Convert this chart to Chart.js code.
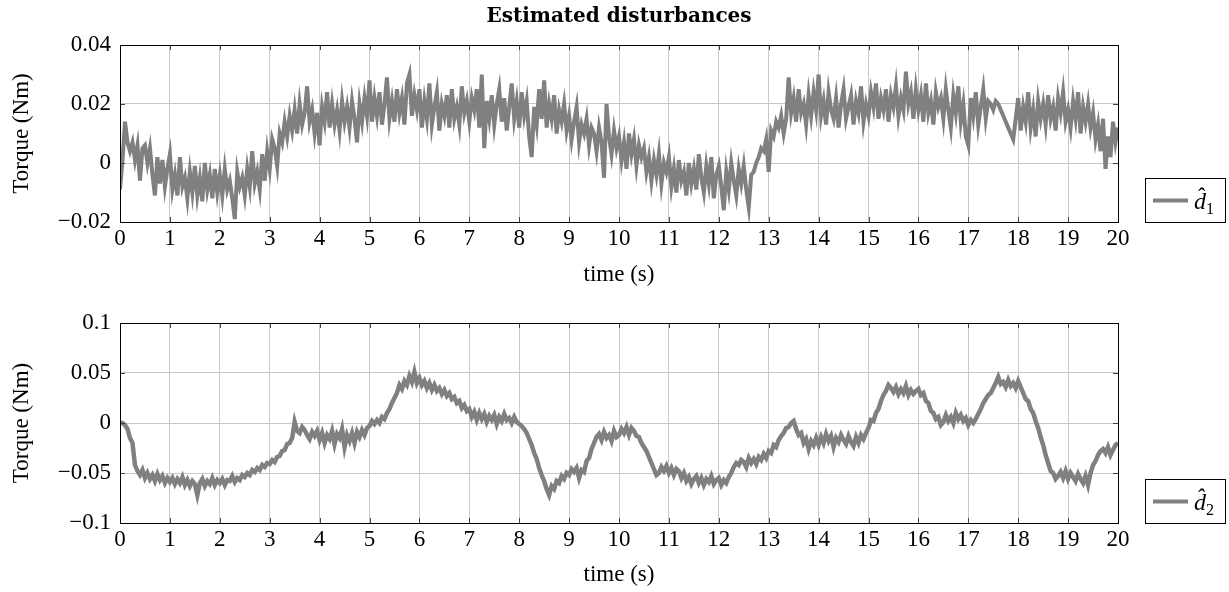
<!DOCTYPE html>
<html><head><meta charset="utf-8">
<script src="https://cdn.jsdelivr.net/npm/chart.js@4.4.1/dist/chart.umd.min.js"></script>
<style>
html,body{margin:0;padding:0;background:#fff;overflow:hidden;width:1229px;height:592px}
canvas{position:absolute;left:0}
#c1{top:0}
#c2{top:296px}
</style></head><body>
<canvas id="c1" width="1229" height="296"></canvas>
<canvas id="c2" width="1229" height="296"></canvas>
<script>
const titleText = 'Estimated disturbances';
const xTitle = 'time (s)';
const yTitle = 'Torque (Nm)';
const legend1 = ['d\u0302', '1'];
const legend2 = ['d\u0302', '2'];
const xTickValues = [0,1,2,3,4,5,6,7,8,9,10,11,12,13,14,15,16,17,18,19,20];
const xTickLabels = ['0','1','2','3','4','5','6','7','8','9','10','11','12','13','14','15','16','17','18','19','20'];
const y1TickValues = [-0.02, 0, 0.02, 0.04];
const y1TickLabels = ['\u22120.02', '0', '0.02', '0.04'];
const y2TickValues = [-0.1, -0.05, 0, 0.05, 0.1];
const y2TickLabels = ['\u22120.1', '\u22120.05', '0', '0.05', '0.1'];
const d1Step = 0.05;   // s between samples of d1
const d2Step = 0.05;   // s between samples of d2

const d1 = [
-0.009,0.001,0.014,0.007,0.004,0.007,0.001,0.006,-0.006,0.005,
0.006,0.000,0.005,-0.004,-0.011,0.002,-0.007,0.001,-0.008,-0.002,
0.003,-0.009,-0.004,-0.011,0.002,-0.008,-0.005,-0.012,-0.003,-0.010,
-0.001,-0.011,-0.005,-0.013,0.000,-0.009,-0.004,-0.012,-0.002,-0.010,
-0.004,-0.011,-0.002,-0.009,-0.006,-0.012,-0.019,-0.003,-0.008,-0.005,
-0.011,-0.002,-0.008,0.004,-0.007,-0.003,-0.009,0.003,-0.006,0.004,
-0.002,0.008,0.005,-0.001,0.010,0.007,0.014,0.009,0.016,0.011,
0.018,0.010,0.020,0.013,0.017,0.026,0.014,0.018,0.010,0.017,
0.006,0.019,0.014,0.024,0.012,0.020,0.013,0.018,0.011,0.021,
0.014,0.019,0.012,0.021,0.015,0.007,0.020,0.014,0.022,0.016,
0.028,0.014,0.022,0.016,0.024,0.013,0.020,0.029,0.015,0.021,
0.014,0.025,0.017,0.022,0.013,0.027,0.030,0.016,0.023,0.018,
0.025,0.012,0.021,0.015,0.027,0.013,0.019,0.024,0.011,0.020,
0.016,0.023,0.012,0.025,0.015,0.019,0.013,0.026,0.017,0.021,
0.014,0.022,0.018,0.025,0.012,0.030,0.005,0.021,0.015,0.023,
0.013,0.020,0.025,0.014,0.022,0.011,0.019,0.027,0.015,0.021,
0.012,0.024,0.016,0.021,0.009,0.002,0.019,0.013,0.025,0.015,
0.028,0.012,0.020,0.015,0.023,0.010,0.018,0.014,0.020,0.011,
0.016,0.008,0.014,0.019,0.007,0.013,0.010,0.015,0.006,0.012,
0.010,0.004,0.012,0.007,-0.005,0.020,0.009,0.003,0.011,0.005,
0.009,0.001,0.007,-0.002,0.010,0.003,0.008,-0.001,0.006,0.002,
0.005,-0.003,0.002,-0.006,0.001,-0.004,0.003,-0.007,0.000,-0.003,
0.002,-0.008,-0.002,-0.010,0.001,-0.006,-0.003,-0.011,0.000,-0.007,
-0.002,-0.009,0.003,-0.005,-0.010,-0.001,-0.007,0.002,-0.012,-0.004,
-0.001,-0.008,-0.016,-0.003,-0.009,0.000,-0.006,-0.011,-0.002,-0.007,
-0.001,-0.009,-0.015,-0.004,-0.003,0.000,0.002,0.005,0.004,0.008,
-0.003,0.011,0.009,0.014,0.012,0.016,0.010,0.015,0.029,0.017,
0.022,0.014,0.025,0.017,0.020,0.013,0.023,0.016,0.024,0.018,
0.030,0.016,0.021,0.013,0.024,0.018,0.015,0.022,0.012,0.020,
0.025,0.015,0.019,0.023,0.013,0.021,0.017,0.026,0.014,0.020,
0.016,0.024,0.019,0.027,0.015,0.022,0.018,0.025,0.014,0.023,
0.019,0.026,0.016,0.022,0.018,0.031,0.020,0.024,0.015,0.025,
0.018,0.023,0.014,0.027,0.017,0.021,0.013,0.024,0.019,0.022,
0.015,0.025,0.018,0.012,0.023,0.017,0.026,0.014,0.020,0.009,
0.006,0.022,0.016,0.024,0.013,0.019,0.025,0.015,0.021,0.020,
0.018,0.021,0.020,0.018,0.016,0.014,0.012,0.010,0.008,0.015,
0.022,0.011,0.019,0.014,0.024,0.012,0.018,0.009,0.021,0.015,
0.020,0.013,0.023,0.015,0.019,0.011,0.022,0.017,0.024,0.014,
0.018,0.012,0.021,0.015,0.024,0.010,0.019,0.014,0.020,0.012,
0.017,0.008,0.013,0.004,0.015,-0.002,0.009,0.002,0.014,0.007,
0.012
];

const d2 = [
0.000,0.000,-0.002,-0.006,-0.015,-0.020,-0.042,-0.048,-0.052,-0.047,
-0.055,-0.050,-0.056,-0.052,-0.058,-0.051,-0.057,-0.053,-0.060,-0.055,
-0.059,-0.055,-0.061,-0.056,-0.060,-0.054,-0.062,-0.057,-0.063,-0.058,
-0.061,-0.072,-0.060,-0.056,-0.063,-0.058,-0.061,-0.055,-0.062,-0.057,
-0.060,-0.056,-0.062,-0.057,-0.058,-0.053,-0.059,-0.055,-0.057,-0.052,
-0.054,-0.050,-0.052,-0.047,-0.049,-0.045,-0.047,-0.042,-0.044,-0.040,
-0.041,-0.037,-0.039,-0.034,-0.033,-0.028,-0.027,-0.021,-0.020,-0.015,
0.001,-0.008,-0.010,-0.004,-0.007,-0.012,-0.016,-0.009,-0.013,-0.008,
-0.017,-0.010,-0.020,-0.012,-0.016,-0.008,-0.021,-0.011,-0.015,-0.006,
-0.024,-0.012,-0.018,-0.010,-0.020,-0.009,-0.014,-0.007,-0.012,-0.005,
-0.003,0.002,-0.001,0.003,0.000,0.006,0.004,0.010,0.014,0.020,
0.025,0.030,0.038,0.034,0.042,0.038,0.047,0.041,0.051,0.040,
0.045,0.038,0.042,0.035,0.040,0.033,0.038,0.032,0.035,0.029,
0.033,0.027,0.030,0.024,0.026,0.020,0.022,0.015,0.018,0.012,
0.014,0.006,0.011,0.003,0.010,0.004,0.009,0.001,0.007,0.003,
0.008,-0.001,0.006,0.002,0.009,0.003,0.005,0.000,0.006,0.001,
-0.001,-0.003,-0.006,-0.010,-0.016,-0.022,-0.030,-0.036,-0.045,-0.052,
-0.058,-0.066,-0.072,-0.063,-0.066,-0.058,-0.060,-0.053,-0.056,-0.050,
-0.052,-0.046,-0.049,-0.045,-0.055,-0.047,-0.049,-0.038,-0.035,-0.026,
-0.020,-0.014,-0.011,-0.017,-0.009,-0.015,-0.012,-0.018,-0.008,-0.014,
-0.012,-0.006,-0.010,-0.004,-0.012,-0.005,-0.008,-0.013,-0.014,-0.020,
-0.024,-0.028,-0.034,-0.040,-0.046,-0.052,-0.050,-0.044,-0.048,-0.043,
-0.050,-0.045,-0.052,-0.046,-0.048,-0.055,-0.050,-0.058,-0.054,-0.061,
-0.056,-0.053,-0.060,-0.055,-0.062,-0.056,-0.059,-0.053,-0.061,-0.057,
-0.055,-0.062,-0.057,-0.060,-0.054,-0.050,-0.044,-0.040,-0.042,-0.037,
-0.039,-0.044,-0.035,-0.040,-0.036,-0.041,-0.034,-0.037,-0.031,-0.035,
-0.028,-0.030,-0.022,-0.024,-0.017,-0.013,-0.010,-0.005,-0.004,0.000,
0.002,-0.006,-0.012,-0.010,-0.020,-0.016,-0.026,-0.018,-0.022,-0.015,
-0.022,-0.014,-0.020,-0.011,-0.018,-0.013,-0.024,-0.015,-0.019,-0.012,
-0.017,-0.021,-0.013,-0.019,-0.023,-0.014,-0.020,-0.012,-0.016,-0.010,
-0.005,0.003,0.002,0.010,0.014,0.022,0.028,0.032,0.038,0.035,
0.031,0.036,0.029,0.034,0.030,0.037,0.028,0.033,0.029,0.032,
0.034,0.028,0.030,0.022,0.020,0.012,0.010,0.004,0.006,-0.002,
0.001,0.008,0.002,0.006,0.000,0.010,0.004,0.008,0.002,0.005,
-0.002,0.003,0.000,0.004,0.009,0.014,0.020,0.024,0.028,0.030,
0.035,0.040,0.046,0.039,0.041,0.036,0.043,0.037,0.040,0.035,
0.042,0.036,0.030,0.024,0.022,0.014,0.010,0.002,-0.005,-0.014,
-0.022,-0.032,-0.040,-0.048,-0.050,-0.056,-0.053,-0.049,-0.055,-0.048,
-0.056,-0.050,-0.054,-0.058,-0.051,-0.056,-0.060,-0.053,-0.062,-0.050,
-0.042,-0.038,-0.032,-0.028,-0.026,-0.030,-0.024,-0.032,-0.027,-0.022,
-0.020
];

const lineColor = '#808080';
const FONT = '"Liberation Serif", "Times New Roman", serif';
const TITLE_FONT = '"DejaVu Serif", serif';

function toPoints(values, step) {
  return values.map((v, i) => ({ x: +(i * step).toFixed(3), y: v }));
}

const frameAndTicks = {
  id: 'frameAndTicks',
  afterDatasetsDraw(chart) {
    const { ctx, chartArea: a, scales } = chart;
    ctx.save();
    ctx.strokeStyle = '#444';
    ctx.lineWidth = 1;
    const L = 5;
    ctx.beginPath();
    scales.x.ticks.forEach(t => {
      const px = Math.round(scales.x.getPixelForValue(t.value)) + 0.5;
      ctx.moveTo(px, a.bottom); ctx.lineTo(px, a.bottom - L);
      ctx.moveTo(px, a.top); ctx.lineTo(px, a.top + L);
    });
    scales.y.ticks.forEach(t => {
      const py = Math.round(scales.y.getPixelForValue(t.value)) + 0.5;
      ctx.moveTo(a.left, py); ctx.lineTo(a.left + L, py);
      ctx.moveTo(a.right, py); ctx.lineTo(a.right - L, py);
    });
    ctx.stroke();
    ctx.strokeStyle = '#000';
    ctx.strokeRect(Math.round(a.left) + 0.5, Math.round(a.top) + 0.5,
                   Math.round(a.right) - Math.round(a.left), Math.round(a.bottom) - Math.round(a.top));
    ctx.restore();
  }
};

const boxLegend = {
  id: 'boxLegend',
  afterDraw(chart, args, opts) {
    const { ctx, chartArea: a } = chart;
    const ds = chart.data.datasets[0];
    const w = 80, h = 44;
    const x = Math.round(a.right) + 27, y = Math.round(a.bottom) - h;
    ctx.save();
    ctx.fillStyle = '#fff';
    ctx.fillRect(x, y, w, h);
    ctx.strokeStyle = '#000';
    ctx.lineWidth = 1;
    ctx.strokeRect(x + 0.5, y + 0.5, w, h);
    const cy = y + h / 2 + 0.5;
    ctx.strokeStyle = ds.borderColor;
    ctx.lineWidth = 4;
    ctx.beginPath();
    ctx.moveTo(x + 8, cy); ctx.lineTo(x + 43, cy);
    ctx.stroke();
    ctx.fillStyle = '#000';
    ctx.textBaseline = 'alphabetic';
    ctx.textAlign = 'left';
    ctx.font = 'italic 24px ' + FONT;
    const tx = x + 49;
    ctx.fillText(opts.text[0], tx, cy + 8);
    const dw = ctx.measureText('d').width;
    ctx.font = '16px ' + FONT;
    ctx.fillText(opts.text[1], tx + dw, cy + 13);
    ctx.restore();
  }
};

function makeOptions(cfg) {
  return {
    responsive: false,
    animation: false,
    devicePixelRatio: 1,
    layout: { padding: { left: 0, right: 1229 - 1118, top: cfg.padTop, bottom: 0 } },
    plugins: {
      legend: { display: false },
      tooltip: { enabled: false },
      title: cfg.title ? {
        display: true, text: cfg.title, fullSize: false,
        color: '#000',
        font: { family: TITLE_FONT, size: 20, weight: 'bold', lineHeight: 1.2 },
        padding: { top: 5, bottom: 16 }
      } : { display: false },
      boxLegend: { text: cfg.legend }
    },
    scales: {
      x: {
        type: 'linear', min: 0, max: 20,
        afterBuildTicks: s => { s.ticks = xTickValues.map(v => ({ value: v })); },
        afterFit: s => { s.height = cfg.xHeight; },
        grid: { color: '#c8c8c8', lineWidth: 1, drawTicks: false },
        border: { display: false },
        ticks: {
          color: '#000', padding: 3, maxRotation: 0, autoSkip: false,
          font: { family: FONT, size: 23 },
          callback: (v, i) => xTickLabels[i]
        },
        title: {
          display: true, text: xTitle, color: '#000',
          font: { family: FONT, size: 23, lineHeight: 1.2 },
          padding: { top: 0, bottom: cfg.xTitlePad }
        }
      },
      y: {
        type: 'linear', min: cfg.yMin, max: cfg.yMax,
        afterBuildTicks: s => { s.ticks = cfg.yTickValues.map(v => ({ value: v })); },
        afterFit: s => { s.width = 120; },
        grid: { color: '#c8c8c8', lineWidth: 1, drawTicks: false },
        border: { display: false },
        ticks: {
          color: '#000', padding: 9, autoSkip: false,
          font: { family: FONT, size: 23 },
          callback: (v, i) => cfg.yTickLabels[i]
        },
        title: {
          display: true, text: yTitle, color: '#000',
          font: { family: FONT, size: 23, lineHeight: 1.2 },
          padding: { top: 8, bottom: 0 }
        }
      }
    }
  };
}

new Chart(document.getElementById('c1'), {
  type: 'line',
  data: { datasets: [{
    label: 'd\u0302\u2081', data: toPoints(d1, d1Step),
    borderColor: lineColor, backgroundColor: lineColor,
    borderWidth: 4, pointRadius: 0, tension: 0, fill: false
  }] },
  options: makeOptions({
    padTop: 0, title: titleText, xHeight: 74, xTitlePad: 7,
    yMin: -0.02, yMax: 0.04, yTickValues: y1TickValues, yTickLabels: y1TickLabels,
    legend: legend1
  }),
  plugins: [frameAndTicks, boxLegend]
});

new Chart(document.getElementById('c2'), {
  type: 'line',
  data: { datasets: [{
    label: 'd\u0302\u2082', data: toPoints(d2, d2Step),
    borderColor: lineColor, backgroundColor: lineColor,
    borderWidth: 4.5, pointRadius: 0, tension: 0, fill: false
  }] },
  options: makeOptions({
    padTop: 27, title: null, xHeight: 69, xTitlePad: 3,
    yMin: -0.1, yMax: 0.1, yTickValues: y2TickValues, yTickLabels: y2TickLabels,
    legend: legend2
  }),
  plugins: [frameAndTicks, boxLegend]
});
</script>
</body></html>
